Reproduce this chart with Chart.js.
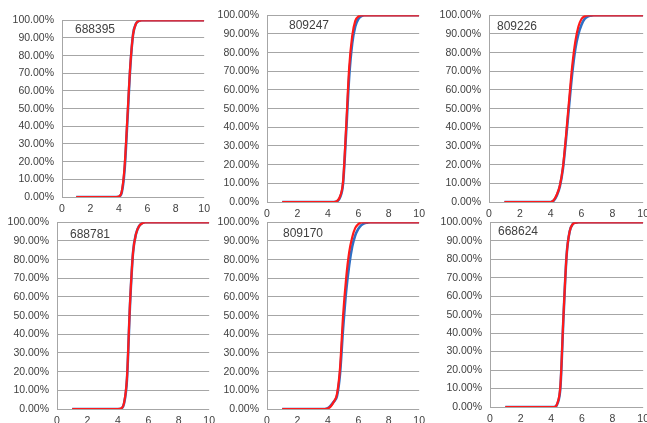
<!DOCTYPE html>
<html>
<head>
<meta charset="utf-8">
<script src="https://cdn.jsdelivr.net/npm/chart.js@4"></script>
<style>
  body { margin: 0; background: #fff; width: 647px; height: 423px; position: relative; overflow: hidden; font-family: "Liberation Sans", Arial, sans-serif; }
  canvas { position: absolute; }
  .tag { position: absolute; font-size: 12px; color: #404040; line-height: 12px; }
</style>
</head>
<body>
<script>
const p688395X    = [1, 3.8, 4.0, 4.2, 4.4, 4.6, 4.8, 5.0, 5.2, 5.4, 5.6, 10];
const p688395Red  = [0, 0, 0.3, 3, 17, 45, 74, 92, 98, 99.6, 100, 100];
const p688395Blue = [0, 0, 0.2, 2.5, 15, 43, 73, 92, 98, 99.6, 100, 100];

const p809247X    = [1, 4.4, 4.6, 4.8, 5.0, 5.2, 5.4, 5.6, 5.8, 6.0, 6.2, 6.4, 10];
const p809247Red  = [0, 0, 0.5, 3, 11, 40, 72, 89, 97, 99.3, 100, 100, 100];
const p809247Blue = [0, 0, 0.3, 2.5, 10, 37, 67, 85, 94, 98, 99.5, 100, 100];

const p809226X    = [1, 4.0, 4.2, 4.4, 4.6, 4.8, 5.0, 5.2, 5.4, 5.6, 5.8, 6.0, 6.2, 6.4, 6.6, 6.8, 10];
const p809226Red  = [0, 0, 1, 4, 9, 19, 36, 55, 73, 86, 94, 98, 99.5, 100, 100, 100, 100];
const p809226Blue = [0, 0, 0.8, 3.5, 8.5, 18, 34, 52, 69, 82, 90, 95, 98, 99.3, 99.8, 100, 100];

const p688781X    = [1, 4.0, 4.2, 4.4, 4.6, 4.8, 5.0, 5.2, 5.4, 5.6, 5.8, 10];
const p688781Red  = [0, 0, 0.3, 3, 17, 57, 84, 94, 98, 99.5, 100, 100];
const p688781Blue = [0, 0, 0.2, 2.8, 16, 56, 84, 94, 98, 99.5, 100, 100];

const p809170X    = [1, 3.8, 4.0, 4.2, 4.4, 4.6, 4.8, 5.0, 5.2, 5.4, 5.6, 5.8, 6.0, 6.2, 6.4, 6.6, 6.8, 10];
const p809170Red  = [0, 0, 0.3, 1.5, 4, 8, 22, 50, 70, 84, 92, 97, 99, 100, 100, 100, 100, 100];
const p809170Blue = [0, 0, 0.5, 2, 4, 7, 19, 43, 63, 77, 87, 93, 96.5, 98.5, 99.5, 99.8, 100, 100];

const p668624X    = [1, 4.2, 4.4, 4.6, 4.8, 5.0, 5.2, 5.4, 5.6, 5.8, 10];
const p668624Red  = [0, 0, 2, 12, 50, 82, 95, 99, 99.8, 100, 100];
const p668624Blue = [0, 0, 1.8, 11, 49, 82, 95, 99, 99.8, 100, 100];

const xTicks = [0, 2, 4, 6, 8, 10];

const panels = [
  { name: '688395', x: p688395X, red: p688395Red, blue: p688395Blue },
  { name: '809247', x: p809247X, red: p809247Red, blue: p809247Blue },
  { name: '809226', x: p809226X, red: p809226Red, blue: p809226Blue },
  { name: '688781', x: p688781X, red: p688781Red, blue: p688781Blue },
  { name: '809170', x: p809170X, red: p809170Red, blue: p809170Blue },
  { name: '668624', x: p668624X, red: p668624Red, blue: p668624Blue }
];

// plot area boxes [left, top, right, bottom] and label spot [x, y]
const boxes = [
  [62, 20, 204, 197], [267, 15, 419, 202], [489, 15, 643, 202],
  [57, 222, 209, 409], [267, 222, 419, 409], [490, 222, 643, 407]
];
const tags = [[75, 23], [289, 19], [497, 20], [70, 228], [283, 227], [498, 225]];

const YW = 60, XH = 20;

function config(p) {
  const pts = arr => p.x.map((x, k) => ({ x: x, y: arr[k] }));
  return {
    type: 'line',
    data: {
      datasets: [
        { data: pts(p.red), borderColor: '#ff1a1a', borderWidth: 2.2, pointRadius: 0, cubicInterpolationMode: 'monotone' },
        { data: pts(p.blue), borderColor: '#2f6fc4', borderWidth: 2.6, pointRadius: 0, cubicInterpolationMode: 'monotone' }
      ]
    },
    options: {
      responsive: false,
      animation: false,
      devicePixelRatio: 1,
      layout: { padding: 0 },
      plugins: { legend: { display: false }, tooltip: { enabled: false } },
      scales: {
        x: {
          type: 'linear', min: 0, max: 10,
          afterBuildTicks: s => { s.ticks = xTicks.map(v => ({ value: v })); },
          afterFit: s => { s.height = XH; },
          grid: { display: false, drawTicks: false },
          border: { display: false },
          ticks: { padding: 6, color: '#404040', font: { family: 'Liberation Sans', size: 10.5 }, maxRotation: 0 }
        },
        y: {
          min: 0, max: 100,
          afterFit: s => { s.width = YW; },
          grid: { color: '#a6a6a6', lineWidth: 1, drawTicks: false },
          border: { display: true, color: '#a6a6a6' },
          ticks: { stepSize: 10, padding: 8, color: '#404040', font: { family: 'Liberation Sans', size: 10.5 },
                   callback: v => v.toFixed(2) + '%' }
        }
      }
    }
  };
}

function sizeCanvas(cv, w, h, x, y) {
  cv.width = w; cv.height = h;
  cv.style.width = w + 'px'; cv.style.height = h + 'px';
  cv.style.left = x + 'px'; cv.style.top = y + 'px';
}

panels.forEach((p, i) => {
  const [l, t, r, b] = boxes[i];
  const cv = document.createElement('canvas');
  document.body.appendChild(cv);

  // first pass: find how much room the axes take, then size the canvas so the plot area sits on the box
  let w = r - l + YW + 12, h = b - t + XH + 14;
  sizeCanvas(cv, w, h, l - YW, t - 14);
  let chart = new Chart(cv, config(p));
  const ca = chart.chartArea;
  const ol = ca.left, ot = ca.top, orr = w - ca.right, ob = h - ca.bottom;
  chart.destroy();

  w = Math.round(r - l + ol + orr);
  h = Math.round(b - t + ot + ob);
  sizeCanvas(cv, w, h, Math.round(l - ol), Math.round(t - ot));
  chart = new Chart(cv, config(p));

  const tag = document.createElement('div');
  tag.className = 'tag';
  tag.style.left = tags[i][0] + 'px';
  tag.style.top = tags[i][1] + 'px';
  tag.innerText = p.name;
  document.body.appendChild(tag);
});
</script>
</body>
</html>
